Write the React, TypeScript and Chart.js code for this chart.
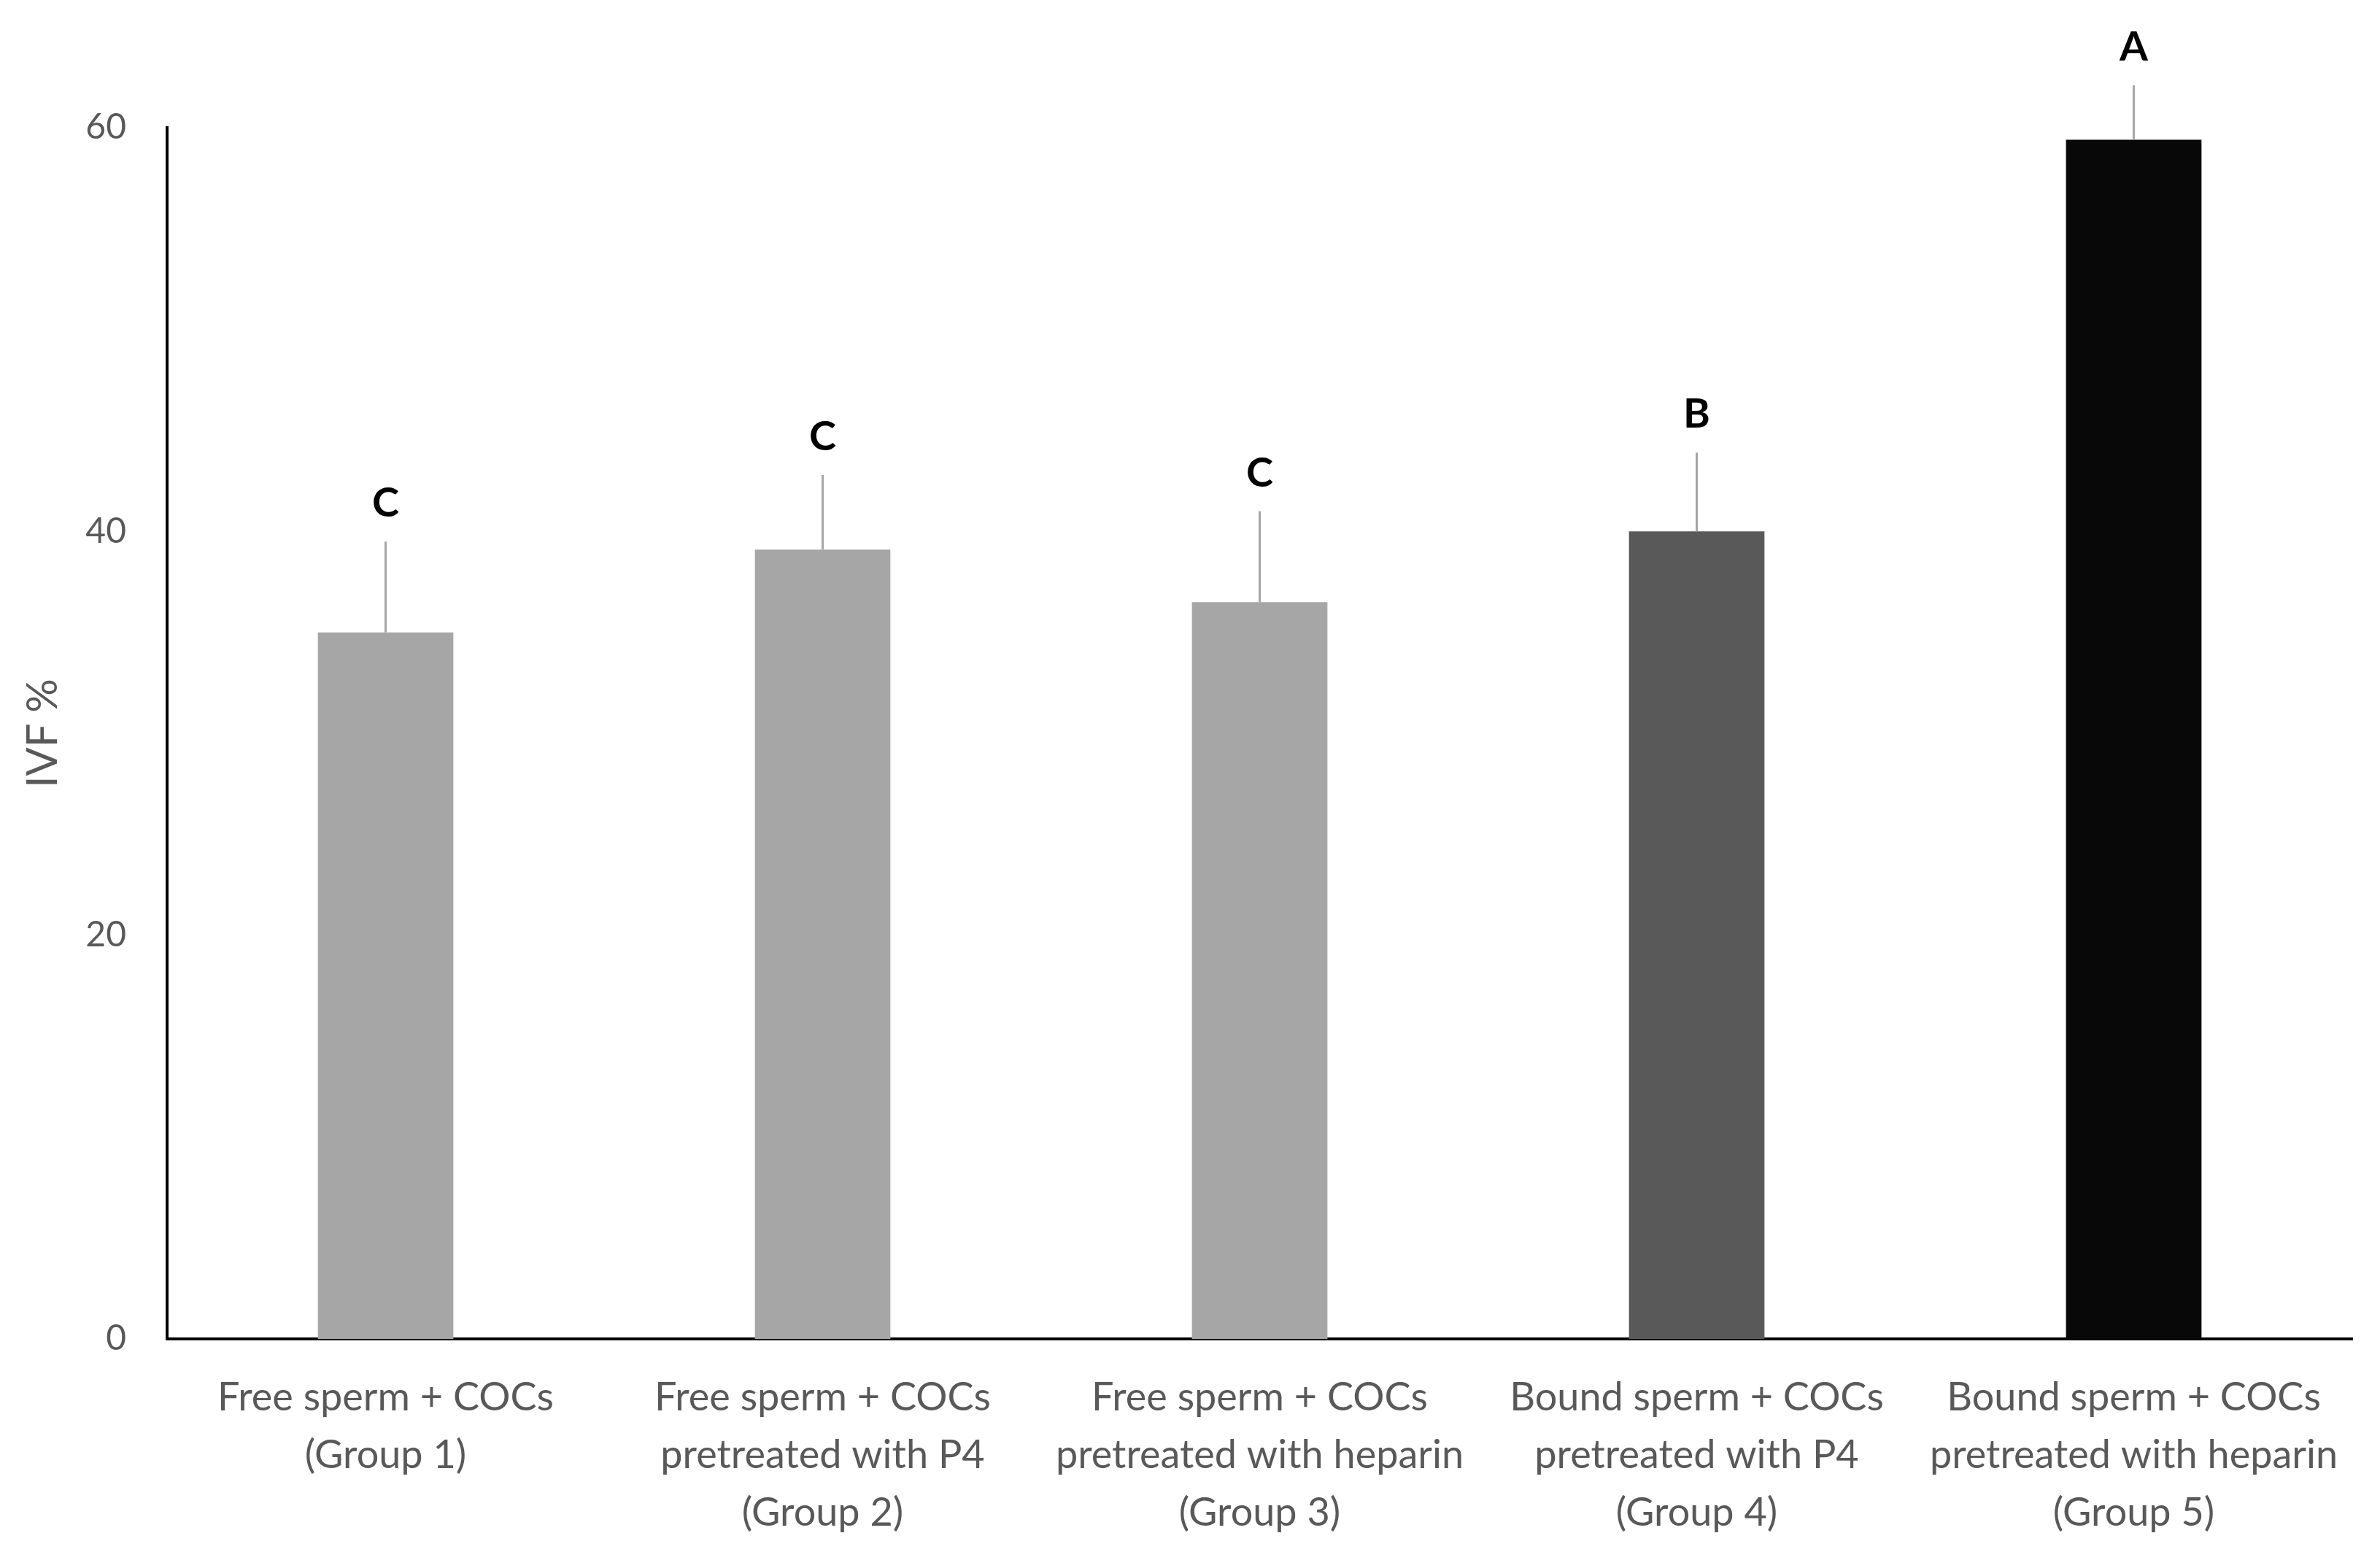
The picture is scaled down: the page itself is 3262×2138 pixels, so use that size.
import React, { useEffect, useRef } from "react";
import { Chart, registerables } from "chart.js";

Chart.register(...registerables);

const categories: string[][] = [
  ["Free sperm + COCs", "(Group 1)"],
  ["Free sperm + COCs", "pretreated with P4", "(Group 2)"],
  ["Free sperm + COCs", "pretreated with heparin", "(Group 3)"],
  ["Bound sperm + COCs", "pretreated with P4", "(Group 4)"],
  ["Bound sperm + COCs", "pretreated with heparin", "(Group 5)"],
];
const ivfValues = [35.0, 39.1, 36.5, 40.0, 59.4];
const errorValues = [4.5, 3.7, 4.5, 3.9, 2.7];
const letters = ["C", "C", "C", "B", "A"];
const barColors = ["#a6a6a6", "#a6a6a6", "#a6a6a6", "#595959", "#080808"];
const yTicks = [0, 20, 40, 60];

const FONT = "Lato, 'Open Sans', sans-serif";

const annotPlugin = {
  id: "annot",
  afterDatasetsDraw(chart: any) {
    const ctx = chart.ctx;
    const meta = chart.getDatasetMeta(0);
    const y = chart.scales.y;
    meta.data.forEach((bar: any, i: number) => {
      const top = y.getPixelForValue(ivfValues[i]);
      const et = y.getPixelForValue(ivfValues[i] + errorValues[i]);
      ctx.save();
      ctx.strokeStyle = "#a6a6a6";
      ctx.lineWidth = 3;
      ctx.beginPath();
      ctx.moveTo(bar.x, top);
      ctx.lineTo(bar.x, et);
      ctx.stroke();
      ctx.fillStyle = "#000000";
      ctx.font = `bold 56px ${FONT}`;
      ctx.textAlign = "center";
      ctx.textBaseline = "middle";
      ctx.fillText(letters[i], bar.x, et - 52);
      ctx.restore();
    });
  },
};

export default function App() {
  const ref = useRef<HTMLCanvasElement>(null);
  useEffect(() => {
    if (!ref.current) return;
    const chart = new Chart(ref.current, {
      type: "bar",
      data: {
        labels: categories as any,
        datasets: [
          {
            data: ivfValues,
            backgroundColor: barColors,
            borderWidth: 0,
            barPercentage: 0.31,
            categoryPercentage: 1,
          },
        ],
      },
      options: {
        animation: false,
        responsive: true,
        maintainAspectRatio: false,
        devicePixelRatio: 1,
        layout: { padding: { top: 175, right: 38, left: 0, bottom: 0 } },
        plugins: { legend: { display: false }, tooltip: { enabled: false } },
        scales: {
          x: {
            grid: { display: false, drawTicks: false },
            border: { display: true, color: "#000", width: 4 },
            ticks: {
              color: "#595959",
              font: { family: FONT, size: 54, lineHeight: 79 / 54 },
              padding: 41,
              maxRotation: 0,
              autoSkip: false,
            },
            afterFit: (s: any) => {
              s.height = 303;
            },
          },
          y: {
            min: 0,
            max: 60,
            afterBuildTicks: (s: any) => {
              s.ticks = yTicks.map((v) => ({ value: v }));
            },
            grid: { display: false, drawTicks: false },
            border: { display: true, color: "#000", width: 4 },
            ticks: {
              color: "#595959",
              font: { family: FONT, size: 48 },
              padding: 56,
            },
            title: {
              display: true,
              text: "IVF %",
              color: "#595959",
              font: { family: FONT, size: 58 },
              padding: { top: 24, bottom: 0 },
            },
            afterFit: (s: any) => {
              s.width = 229;
            },
          },
        },
      },
      plugins: [annotPlugin],
    });
    return () => chart.destroy();
  }, []);
  return (
    <div
      style={{
        position: "fixed",
        left: 0,
        top: 0,
        width: "3262px",
        height: "2138px",
        background: "#fff",
      }}
    >
      <canvas ref={ref} />
    </div>
  );
}
